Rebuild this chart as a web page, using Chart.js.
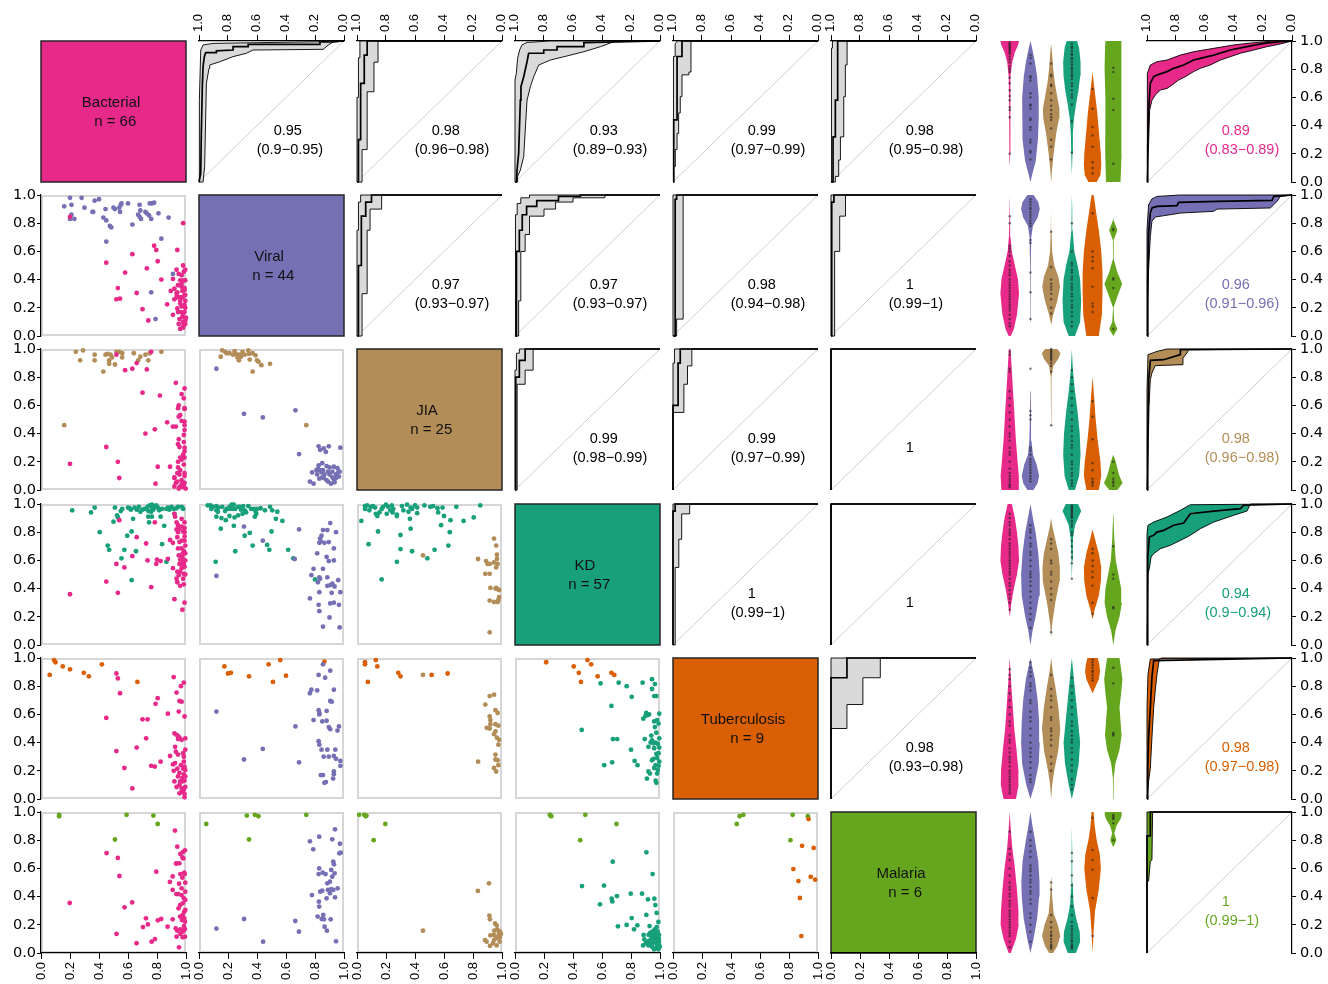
<!DOCTYPE html>
<html><head><meta charset="utf-8">
<script src="https://cdn.jsdelivr.net/npm/chart.js@4.4.0/dist/chart.umd.min.js"></script>
<style>
html,body{margin:0;padding:0;background:#fff;}
#root{position:relative;width:1328px;height:984px;overflow:hidden;background:#fff;}
canvas{position:absolute;}
</style>
</head><body><div id="root"></div>
<script>
// ---------------- DATA ----------------
const CLASSES = ['Bacterial','Viral','JIA','KD','Tuberculosis','Malaria'];
const COUNTS = [66,44,25,57,9,6];
const COLORS = ['#E7298A','#7570B3','#B38D57','#17A07A','#D95F02','#66A61E'];
const TICK_VALUES = [0,0.2,0.4,0.6,0.8,1];
const TICK_LABELS = ['0.0','0.2','0.4','0.6','0.8','1.0'];

// pairwise AUC labels (upper triangle)
const UPPER_PAIRS = [[0,1],[0,2],[0,3],[0,4],[0,5],[1,2],[1,3],[1,4],[1,5],[2,3],[2,4],[2,5],[3,4],[3,5],[4,5]];
const UPPER_AUC = ['0.95','0.98','0.93','0.99','0.98','0.97','0.97','0.98','1','0.99','0.99','1','1','1','0.98'];
const UPPER_CI = ['(0.9\u22120.95)','(0.96\u22120.98)','(0.89\u22120.93)','(0.97\u22120.99)','(0.95\u22120.98)','(0.93\u22120.97)','(0.93\u22120.97)','(0.94\u22120.98)','(0.99\u22121)','(0.98\u22120.99)','(0.97\u22120.99)','','(0.99\u22121)','','(0.93\u22120.98)'];
// one-vs-rest AUC labels
const OVR_AUC = ['0.89','0.96','0.98','0.94','0.98','1'];
const OVR_CI = ['(0.83\u22120.89)','(0.91\u22120.96)','(0.96\u22120.98)','(0.9\u22120.94)','(0.97\u22120.98)','(0.99\u22121)'];

const DIAG = [[1,0],[0,1]];
const ONE = [[1,0],[1,1],[0,1]];

// ROC curves [specificity, sensitivity]: M = estimate, L/H = CI bounds
const R01_M = [[1,0],[0.988,0.06],[0.984,0.35],[0.977,0.68],[0.972,0.82],[0.963,0.89],[0.954,0.917],[0.88,0.917],[0.88,0.93],[0.765,0.936],[0.765,0.96],[0.661,0.96],[0.661,0.976],[0.166,0.976],[0.166,0.993],[0.085,0.993],[0,1]];
const R01_H = [[1,0],[1,0.06],[0.995,0.58],[0.988,0.936],[0.972,0.972],[0.903,0.983],[0.166,0.995],[0.1,1],[0,1]];
const R01_L = [[1,0],[0.972,0],[0.961,0.11],[0.949,0.70],[0.931,0.806],[0.926,0.83],[0.857,0.853],[0.765,0.889],[0.673,0.913],[0.627,0.936],[0.143,0.941],[0.108,0.972],[0.074,0.993],[0,1]];
const R02_M = [[1,0],[0.99,0],[0.99,0.3],[0.975,0.3],[0.975,0.7],[0.95,0.7],[0.95,0.9],[0.93,0.9],[0.93,1],[0,1]];
const R02_H = [[1,0],[1,0.6],[0.99,0.6],[0.99,0.88],[0.98,0.88],[0.98,1],[0,1]];
const R02_L = [[1,0],[0.965,0],[0.965,0.23],[0.93,0.23],[0.93,0.64],[0.883,0.64],[0.883,0.85],[0.855,0.85],[0.855,1],[0,1]];
const R03_M = [[1,0],[0.99,0],[0.986,0.085],[0.975,0.2],[0.963,0.58],[0.959,0.676],[0.94,0.747],[0.917,0.853],[0.906,0.913],[0.802,0.913],[0.802,0.936],[0.71,0.936],[0.71,0.96],[0.525,0.96],[0.525,0.988],[0,1]];
const R03_H = [[1,0],[1,0.723],[0.991,0.77],[0.982,0.877],[0.968,0.936],[0.952,0.972],[0.917,0.99],[0.756,1],[0,1]];
const R03_L = [[1,0],[0.982,0],[0.982,0.04],[0.963,0.085],[0.94,0.18],[0.917,0.58],[0.894,0.676],[0.871,0.747],[0.836,0.83],[0.756,0.865],[0.641,0.894],[0.525,0.924],[0.41,0.96],[0.318,0.995],[0,1]];
const R04_M = [[1,0],[0.995,0],[0.995,0.44],[0.972,0.44],[0.972,0.89],[0.938,0.89],[0.938,1],[0,1]];
const R04_H = [[1,0],[1,0.44],[0.995,0.44],[0.995,0.89],[0.985,0.89],[0.985,0.98],[0.97,1],[0,1]];
const R04_L = [[1,0],[0.995,0],[0.995,0.11],[0.984,0.11],[0.984,0.23],[0.972,0.23],[0.972,0.345],[0.961,0.345],[0.961,0.49],[0.95,0.49],[0.95,0.605],[0.938,0.605],[0.938,0.76],[0.89,0.76],[0.89,0.78],[0.876,0.78],[0.876,1],[0,1]];
const R05_M = [[1,0],[0.986,0],[0.986,0.32],[0.97,0.32],[0.97,0.58],[0.954,0.58],[0.954,1],[0,1]];
const R05_H = [[1,0],[1,0.6],[0.995,0.6],[0.995,0.95],[0.99,0.95],[0.99,1],[0,1]];
const R05_L = [[1,0],[0.97,0],[0.97,0.04],[0.947,0.04],[0.947,0.156],[0.935,0.156],[0.935,0.32],[0.912,0.32],[0.912,0.605],[0.901,0.605],[0.901,0.83],[0.889,0.83],[0.889,1],[0,1]];
const R12_M = [[1,0],[0.99,0],[0.99,0.5],[0.97,0.5],[0.97,0.85],[0.94,0.85],[0.94,0.95],[0.9,0.95],[0.9,1],[0,1]];
const R12_H = [[1,0],[1,0.75],[0.99,0.75],[0.99,0.95],[0.975,0.95],[0.975,1],[0,1]];
const R12_L = [[1,0],[0.965,0],[0.965,0.3],[0.93,0.3],[0.93,0.75],[0.91,0.75],[0.91,0.9],[0.83,0.9],[0.83,1],[0,1]];
const R13_M = [[1,0],[0.99,0],[0.99,0.6],[0.97,0.6],[0.97,0.75],[0.95,0.75],[0.95,0.86],[0.92,0.86],[0.92,0.92],[0.85,0.92],[0.85,0.96],[0.7,0.96],[0.7,0.99],[0.55,0.99],[0.55,1],[0,1]];
const R13_H = [[1,0],[1,0.7],[0.995,0.7],[0.995,0.86],[0.985,0.86],[0.985,0.94],[0.96,0.94],[0.96,0.98],[0.9,0.98],[0.9,1],[0,1]];
const R13_L = [[1,0],[0.975,0],[0.975,0.25],[0.96,0.25],[0.96,0.6],[0.93,0.6],[0.93,0.72],[0.9,0.72],[0.9,0.85],[0.8,0.85],[0.8,0.9],[0.72,0.9],[0.72,0.95],[0.6,0.95],[0.6,0.98],[0.38,0.98],[0.38,1],[0,1]];
const R14_M = [[1,0],[0.985,0],[0.985,0.97],[0.975,0.97],[0.975,1],[0,1]];
const R14_H = ONE;
const R14_L = [[1,0],[0.975,0],[0.975,0.12],[0.93,0.12],[0.93,1],[0,1]];
const R15_M = [[1,0],[0.995,0],[0.995,0.95],[0.98,0.95],[0.98,1],[0,1]];
const R15_H = ONE;
const R15_L = [[1,0],[0.975,0],[0.975,0.6],[0.94,0.6],[0.94,0.85],[0.9,0.85],[0.9,1],[0,1]];
const R23_M = [[1,0],[0.995,0],[0.995,0.8],[0.97,0.8],[0.97,0.92],[0.93,0.92],[0.93,1],[0,1]];
const R23_H = [[1,0],[1,0.85],[0.99,0.85],[0.99,0.97],[0.97,0.97],[0.97,1],[0,1]];
const R23_L = [[1,0],[0.985,0],[0.985,0.75],[0.93,0.75],[0.93,0.85],[0.875,0.85],[0.875,1],[0,1]];
const R24_M = [[1,0],[1,0.6],[0.965,0.6],[0.965,0.9],[0.95,0.9],[0.95,1],[0,1]];
const R24_H = [[1,0],[1,0.9],[0.99,0.9],[0.99,1],[0,1]];
const R24_L = [[1,0],[1,0.55],[0.925,0.55],[0.925,0.75],[0.9,0.75],[0.9,0.88],[0.87,0.88],[0.87,1],[0,1]];
const R25_M = ONE, R25_H = ONE, R25_L = ONE;
const R34_M = [[1,0],[1,0.95],[0.985,0.95],[0.985,1],[0,1]];
const R34_H = ONE;
const R34_L = [[1,0],[0.985,0],[0.985,0.55],[0.96,0.55],[0.96,0.75],[0.94,0.75],[0.94,0.93],[0.885,0.93],[0.885,1],[0,1]];
const R35_M = ONE, R35_H = ONE, R35_L = ONE;
const R45_M = [[1,0],[1,0.86],[0.89,0.86],[0.89,1],[0,1]];
const R45_H = ONE;
const R45_L = [[1,0],[1,0.5],[0.89,0.5],[0.89,0.67],[0.78,0.67],[0.78,0.86],[0.66,0.86],[0.66,1],[0,1]];

// one-vs-rest ROC
const O0_M = [[1,0],[0.995,0.25],[0.989,0.51],[0.977,0.70],[0.954,0.747],[0.931,0.759],[0.862,0.783],[0.816,0.806],[0.747,0.83],[0.678,0.865],[0.632,0.877],[0.54,0.9],[0.425,0.936],[0.31,0.96],[0.195,0.983],[0.08,0.995],[0,1]];
const O0_H = [[1,0],[1,0.58],[0.995,0.77],[0.977,0.83],[0.931,0.853],[0.862,0.865],[0.77,0.9],[0.678,0.924],[0.54,0.948],[0.402,0.972],[0.264,0.988],[0.126,1],[0,1]];
const O0_L = [[1,0],[0.989,0.274],[0.982,0.51],[0.966,0.58],[0.943,0.617],[0.908,0.652],[0.862,0.664],[0.828,0.688],[0.782,0.723],[0.736,0.747],[0.678,0.783],[0.632,0.806],[0.563,0.83],[0.494,0.865],[0.425,0.889],[0.356,0.913],[0.264,0.936],[0.172,0.96],[0.08,0.979],[0,1]];
const O1_M = [[1,0],[0.995,0.4],[0.989,0.73],[0.977,0.872],[0.966,0.908],[0.931,0.919],[0.793,0.924],[0.782,0.948],[0.517,0.955],[0.138,0.962],[0.126,0.99],[0,1]];
const O1_H = [[1,0],[1,0.754],[0.989,0.931],[0.966,0.972],[0.931,0.99],[0.77,1],[0,1]];
const O1_L = [[1,0],[0.995,0.21],[0.989,0.47],[0.977,0.706],[0.966,0.813],[0.943,0.844],[0.885,0.853],[0.77,0.872],[0.54,0.884],[0.517,0.9],[0.15,0.908],[0.126,0.931],[0.103,0.955],[0.08,0.99],[0,1]];
const O2_M = [[1,0],[0.995,0.357],[0.989,0.783],[0.982,0.853],[0.977,0.92],[0.885,0.924],[0.77,0.96],[0.77,0.995],[0,1]];
const O2_H = [[1,0],[1,0.712],[0.993,0.96],[0.931,0.983],[0.862,1],[0,1]];
const O2_L = [[1,0],[0.993,0.239],[0.986,0.593],[0.977,0.783],[0.966,0.83],[0.943,0.882],[0.752,0.889],[0.752,0.936],[0.724,0.972],[0.713,0.995],[0,1]];
const O3_M = [[1,0],[0.995,0.624],[0.984,0.766],[0.954,0.778],[0.931,0.801],[0.885,0.813],[0.816,0.849],[0.747,0.865],[0.701,0.931],[0.54,0.95],[0.356,0.967],[0.333,0.991],[0,1]];
const O3_H = [[1,0],[1,0.79],[0.993,0.849],[0.954,0.872],[0.862,0.908],[0.77,0.955],[0.701,0.995],[0,1]];
const O3_L = [[1,0],[0.993,0.506],[0.982,0.553],[0.972,0.624],[0.954,0.648],[0.908,0.683],[0.839,0.707],[0.77,0.742],[0.701,0.778],[0.632,0.825],[0.54,0.872],[0.402,0.92],[0.31,0.95],[0.287,1],[0,1]];
const O4_M = [[1,0],[0.995,0.22],[0.989,0.433],[0.977,0.648],[0.966,0.862],[0.954,0.981],[0,1]];
const O4_H = [[1,0],[1,0.648],[0.993,0.886],[0.977,0.993],[0,1]];
const O4_L = [[1,0],[0.989,0.124],[0.977,0.219],[0.966,0.433],[0.954,0.648],[0.943,0.767],[0.931,0.886],[0.915,0.993],[0.9,1],[0,1]];
const O5_M = [[1,0],[1,0.83],[0.977,0.83],[0.977,1],[0,1]];
const O5_H = ONE;
const O5_L = [[1,0],[1,0.5],[0.989,0.51],[0.977,0.65],[0.966,0.66],[0.961,1],[0,1]];

// violin profiles per row: for each class [y, half-width]
const VIOLIN_R0 = [
 [[0.12,0],[0.2,0.02],[0.4,0.02],[0.6,0.03],[0.75,0.05],[0.85,0.12],[0.92,0.25],[0.97,0.4],[1.0,0.45]],
 [[0.0,0],[0.05,0.08],[0.15,0.26],[0.3,0.36],[0.45,0.4],[0.6,0.4],[0.75,0.32],[0.85,0.22],[0.95,0.08],[1.0,0]],
 [[0.0,0],[0.1,0.05],[0.2,0.12],[0.35,0.25],[0.45,0.38],[0.52,0.4],[0.6,0.3],[0.7,0.18],[0.8,0.1],[0.9,0.05],[0.98,0]],
 [[0.05,0],[0.2,0.03],[0.35,0.05],[0.45,0.1],[0.55,0.2],[0.65,0.32],[0.75,0.4],[0.85,0.42],[0.95,0.35],[1.0,0.25]],
 [[0.0,0.2],[0.05,0.38],[0.12,0.42],[0.2,0.4],[0.3,0.34],[0.4,0.28],[0.5,0.22],[0.6,0.14],[0.7,0.06],[0.78,0]],
 [[0.0,0.35],[0.2,0.4],[0.4,0.38],[0.6,0.38],[0.8,0.42],[0.95,0.4],[1.0,0.38]]
];
const VIOLIN_R1 = [
 [[0.0,0.05],[0.05,0.2],[0.15,0.35],[0.3,0.45],[0.4,0.4],[0.5,0.25],[0.6,0.1],[0.7,0.04],[0.85,0.02],[1.0,0]],
 [[0.1,0],[0.3,0.01],[0.5,0.02],[0.7,0.04],[0.78,0.12],[0.84,0.35],[0.9,0.45],[0.95,0.38],[1.0,0.15]],
 [[0.08,0],[0.15,0.1],[0.25,0.3],[0.35,0.43],[0.42,0.35],[0.5,0.15],[0.6,0.05],[0.75,0.02],[0.9,0]],
 [[0.0,0.15],[0.1,0.4],[0.25,0.45],[0.4,0.4],[0.5,0.28],[0.6,0.12],[0.75,0.04],[0.9,0.02],[1.0,0]],
 [[0.0,0.3],[0.15,0.45],[0.3,0.48],[0.45,0.48],[0.6,0.42],[0.75,0.3],[0.85,0.2],[0.95,0.1],[1.0,0.05]],
 [[0.0,0],[0.05,0.2],[0.1,0.05],[0.2,0.01],[0.28,0.2],[0.37,0.43],[0.45,0.2],[0.55,0.01],[0.68,0.02],[0.75,0.2],[0.82,0.02],[0.85,0]]
];
const VIOLIN_R2 = [
 [[0.0,0.4],[0.1,0.44],[0.2,0.38],[0.35,0.3],[0.5,0.24],[0.65,0.18],[0.8,0.12],[0.9,0.08],[1.0,0.04]],
 [[0.0,0.15],[0.05,0.35],[0.1,0.42],[0.18,0.3],[0.25,0.12],[0.35,0.05],[0.5,0.03],[0.7,0.02],[0.9,0]],
 [[0.45,0],[0.6,0.01],[0.8,0.02],[0.88,0.1],[0.93,0.35],[0.97,0.45],[1.0,0.3]],
 [[0.0,0.15],[0.1,0.35],[0.25,0.42],[0.4,0.38],[0.55,0.28],[0.7,0.15],[0.85,0.05],[1.0,0]],
 [[0.0,0.3],[0.1,0.42],[0.2,0.38],[0.35,0.25],[0.5,0.15],[0.65,0.08],[0.8,0]],
 [[0.0,0.2],[0.05,0.45],[0.1,0.3],[0.15,0.2],[0.2,0.12],[0.25,0]]
];
const VIOLIN_R3 = [
 [[0.2,0],[0.3,0.08],[0.4,0.2],[0.5,0.35],[0.6,0.45],[0.7,0.42],[0.8,0.35],[0.9,0.25],[1.0,0.1]],
 [[0.0,0],[0.1,0.1],[0.2,0.25],[0.35,0.42],[0.5,0.45],[0.65,0.38],[0.8,0.25],[0.9,0.12],[1.0,0]],
 [[0.05,0],[0.15,0.05],[0.3,0.2],[0.45,0.4],[0.55,0.42],[0.65,0.35],[0.75,0.2],[0.85,0.05],[0.9,0]],
 [[0.45,0],[0.6,0.02],[0.75,0.05],[0.85,0.15],[0.9,0.3],[0.95,0.45],[1.0,0.3]],
 [[0.18,0],[0.25,0.1],[0.35,0.3],[0.45,0.4],[0.55,0.42],[0.65,0.3],[0.75,0.12],[0.82,0]],
 [[0.0,0],[0.1,0.1],[0.2,0.3],[0.3,0.42],[0.4,0.38],[0.5,0.25],[0.6,0.12],[0.75,0.05],[0.95,0]]
];
const VIOLIN_R4 = [
 [[0.0,0.3],[0.1,0.43],[0.2,0.42],[0.35,0.33],[0.5,0.22],[0.65,0.15],[0.8,0.08],[1.0,0]],
 [[0.0,0],[0.1,0.2],[0.25,0.4],[0.4,0.45],[0.55,0.42],[0.7,0.35],[0.85,0.22],[1.0,0]],
 [[0.0,0],[0.1,0.05],[0.2,0.15],[0.35,0.35],[0.5,0.44],[0.65,0.35],[0.8,0.2],[0.9,0.08],[1.0,0]],
 [[0.0,0],[0.1,0.15],[0.25,0.33],[0.4,0.4],[0.55,0.3],[0.7,0.2],[0.85,0.1],[1.0,0]],
 [[0.75,0],[0.8,0.15],[0.85,0.3],[0.9,0.36],[0.95,0.33],[1.0,0.25]],
 [[0.0,0],[0.15,0.02],[0.25,0.1],[0.35,0.3],[0.45,0.4],[0.55,0.35],[0.65,0.3],[0.75,0.38],[0.85,0.44],[0.95,0.35],[1.0,0.3]]
];
const VIOLIN_R5 = [
 [[0.0,0.05],[0.1,0.3],[0.2,0.44],[0.3,0.42],[0.45,0.35],[0.6,0.25],[0.75,0.12],[0.9,0.04],[1.0,0]],
 [[0.0,0],[0.1,0.15],[0.25,0.33],[0.4,0.42],[0.5,0.44],[0.65,0.38],[0.8,0.22],[0.9,0.1],[1.0,0]],
 [[0.0,0.1],[0.05,0.3],[0.12,0.44],[0.2,0.32],[0.28,0.12],[0.4,0.05],[0.55,0]],
 [[0.0,0.2],[0.08,0.4],[0.15,0.38],[0.25,0.2],[0.35,0.08],[0.5,0.04],[0.7,0.02],[0.9,0]],
 [[0.0,0],[0.15,0.05],[0.3,0.12],[0.45,0.3],[0.6,0.4],[0.7,0.35],[0.8,0.2],[0.9,0.1],[1.0,0.05]],
 [[0.75,0],[0.8,0.15],[0.85,0.05],[0.9,0.15],[0.95,0.35],[0.98,0.42],[1.0,0.4]]
];

// sample scores shown as dots inside the violins (per row, per class)
const VDOT_R0 = [
 [0.99,0.98,0.97,0.96,0.95,0.94,0.93,0.92,0.91,0.89,0.87,0.85,0.82,0.80,0.78,0.74,0.70,0.65,0.61,0.58,0.53,0.51,0.46,0.20],
 [0.90,0.88,0.84,0.75,0.74,0.72,0.63,0.60,0.55,0.54,0.52,0.45,0.44,0.39,0.37,0.30,0.28,0.22,0.21,0.16],
 [0.84,0.76,0.75,0.69,0.68,0.63,0.58,0.54,0.51,0.48,0.46,0.44,0.38,0.30,0.25,0.16],
 [0.98,0.96,0.95,0.93,0.91,0.90,0.88,0.87,0.85,0.83,0.81,0.80,0.78,0.76,0.75,0.73,0.70,0.68,0.65,0.62,0.60,0.55,0.43,0.21],
 [0.66,0.52,0.39,0.33,0.25,0.14,0.10,0.06],
 [0.81,0.78,0.59,0.51,0.13]
];
const VDOT_R1 = [
 [0.85,0.80,0.64,0.62,0.60,0.57,0.53,0.50,0.47,0.45,0.43,0.40,0.38,0.36,0.34,0.32,0.30,0.28,0.26,0.24,0.22,0.20,0.18,0.15,0.12,0.09,0.07],
 [0.97,0.95,0.93,0.91,0.90,0.88,0.86,0.84,0.82,0.80,0.78,0.68,0.66,0.45,0.31,0.12],
 [0.74,0.49,0.40,0.37,0.35,0.33,0.30,0.26,0.20,0.16],
 [0.80,0.60,0.52,0.50,0.47,0.45,0.42,0.40,0.37,0.35,0.33,0.30,0.28,0.25,0.22,0.20,0.17,0.14,0.10,0.07],
 [0.87,0.60,0.56,0.53,0.48,0.35,0.23,0.21,0.17],
 [0.76,0.75,0.41,0.40,0.34,0.05]
];
const VDOT_R2 = [
 [0.98,0.96,0.86,0.84,0.70,0.65,0.60,0.55,0.50,0.45,0.40,0.38,0.35,0.30,0.27,0.25,0.20,0.15,0.12,0.10,0.08,0.06,0.04,0.03,0.02],
 [0.86,0.56,0.53,0.50,0.30,0.28,0.25,0.22,0.20,0.18,0.16,0.14,0.12,0.10,0.08,0.06],
 [1.00,0.99,0.98,0.97,0.96,0.95,0.94,0.93,0.92,0.90,0.88,0.84,0.46],
 [0.85,0.80,0.75,0.70,0.65,0.60,0.55,0.50,0.45,0.42,0.38,0.35,0.32,0.30,0.25,0.20,0.18,0.15,0.12,0.10,0.07,0.05,0.03],
 [0.63,0.52,0.36,0.19,0.14,0.08,0.06,0.05,0.03],
 [0.20,0.12,0.08,0.06,0.05,0.03]
];
const VDOT_R3 = [
 [0.93,0.90,0.87,0.85,0.82,0.80,0.78,0.75,0.72,0.70,0.68,0.66,0.64,0.62,0.60,0.58,0.56,0.54,0.52,0.50,0.47,0.44,0.42,0.39,0.36,0.33,0.30,0.25],
 [0.85,0.82,0.80,0.76,0.72,0.70,0.66,0.64,0.60,0.56,0.52,0.50,0.48,0.45,0.42,0.38,0.34,0.30,0.26,0.22,0.18,0.12],
 [0.75,0.72,0.68,0.60,0.58,0.52,0.50,0.45,0.40,0.36,0.32,0.09],
 [0.99,0.98,0.97,0.96,0.95,0.94,0.93,0.92,0.91,0.90,0.88,0.86,0.84,0.80,0.78,0.74,0.70,0.66,0.62,0.58,0.47],
 [0.68,0.65,0.60,0.56,0.52,0.48,0.42,0.30,0.22],
 [0.70,0.50,0.47,0.27,0.26]
];
const VDOT_R4 = [
 [0.92,0.88,0.85,0.80,0.75,0.70,0.65,0.60,0.55,0.52,0.45,0.42,0.40,0.36,0.33,0.30,0.28,0.26,0.23,0.20,0.18,0.16,0.14,0.12,0.10,0.08,0.06,0.04],
 [0.97,0.93,0.90,0.87,0.82,0.80,0.77,0.70,0.68,0.62,0.58,0.55,0.50,0.45,0.40,0.36,0.33,0.30,0.26,0.22,0.17,0.14,0.12],
 [0.88,0.78,0.73,0.70,0.65,0.58,0.56,0.50,0.48,0.45,0.42,0.38,0.30,0.25,0.20],
 [0.86,0.80,0.75,0.70,0.65,0.60,0.55,0.52,0.48,0.45,0.42,0.40,0.36,0.33,0.28,0.24,0.20,0.14,0.10,0.07],
 [0.99,0.97,0.95,0.93,0.91,0.90,0.88,0.86,0.84],
 [0.93,0.82,0.47,0.46,0.45]
];
const VDOT_R5 = [
 [0.86,0.74,0.70,0.66,0.60,0.55,0.50,0.47,0.45,0.42,0.40,0.37,0.35,0.33,0.30,0.28,0.26,0.24,0.22,0.20,0.18,0.16,0.14,0.12,0.08,0.04],
 [0.86,0.80,0.76,0.72,0.68,0.62,0.60,0.58,0.55,0.52,0.50,0.47,0.44,0.42,0.38,0.35,0.28,0.25,0.20,0.15,0.08],
 [0.50,0.45,0.27,0.22,0.18,0.15,0.13,0.12,0.10,0.08,0.06,0.05,0.04,0.03],
 [0.71,0.65,0.55,0.48,0.40,0.33,0.27,0.22,0.19,0.17,0.15,0.13,0.11,0.09,0.08,0.06,0.05,0.04,0.03],
 [0.96,0.73,0.66,0.59,0.39,0.12],
 [0.98,0.97,0.96,0.95,0.92,0.80]
];

// scatter panels (row class A, column class B) as [x, y]
const SC_1_0_A = [[0.16,0.92],[0.20,0.98],[0.21,0.93],[0.21,0.86],[0.23,0.83],[0.20,0.83],[0.28,0.98],[0.30,0.91],[0.355,0.88],[0.36,0.88],[0.37,0.96],[0.40,0.97],[0.43,0.84],[0.445,0.90],[0.45,0.82],[0.475,0.78],[0.485,0.77],[0.45,0.67],[0.50,0.91],[0.51,0.90],[0.54,0.91],[0.545,0.88],[0.55,0.93],[0.555,0.94],[0.60,0.94],[0.63,0.79],[0.67,0.86],[0.68,0.93],[0.685,0.89],[0.68,0.845],[0.69,0.83],[0.72,0.88],[0.73,0.87],[0.745,0.855],[0.75,0.94],[0.765,0.94],[0.78,0.945],[0.76,0.83],[0.81,0.87],[0.88,0.84],[0.83,0.69],[0.91,0.44],[0.76,0.31],[0.79,0.12]];
const SC_1_0_B = [[0.20,0.845],[0.98,0.80],[0.45,0.52],[0.58,0.45],[0.63,0.58],[0.53,0.34],[0.52,0.26],[0.545,0.265],[0.66,0.305],[0.70,0.19],[0.74,0.11],[0.73,0.48],[0.78,0.64],[0.795,0.61],[0.805,0.53],[0.83,0.40],[0.94,0.61],[0.935,0.47],[0.91,0.405],[0.87,0.225],[0.91,0.15],[0.895,0.32],[0.92,0.335],[0.935,0.30],[0.94,0.195],[0.95,0.085],[0.96,0.395],[0.97,0.35],[0.98,0.50],[0.995,0.47],[0.985,0.395],[0.99,0.325],[0.975,0.275],[0.995,0.25],[0.96,0.25],[0.97,0.21],[0.99,0.17],[0.975,0.135],[0.995,0.11],[0.98,0.06],[0.965,0.17],[0.945,0.17],[0.955,0.12],[0.995,0.20],[0.975,0.32],[0.945,0.36],[0.955,0.275],[0.995,0.29],[0.995,0.395],[0.985,0.455],[0.995,0.085],[0.98,0.10],[0.935,0.275],[0.96,0.23],[0.99,0.22],[0.97,0.43],[0.94,0.31],[0.99,0.34],[0.98,0.16],[0.96,0.05],[1.0,0.13],[0.92,0.26],[0.97,0.37],[0.99,0.29],[0.95,0.44],[0.98,0.07]];
const SC_2_0_A = [[0.24,0.98],[0.29,0.99],[0.27,0.92],[0.37,0.96],[0.37,0.92],[0.43,0.84],[0.46,0.965],[0.48,0.96],[0.49,0.94],[0.47,0.92],[0.47,0.895],[0.51,0.89],[0.52,0.98],[0.54,0.98],[0.56,0.97],[0.56,0.94],[0.64,0.97],[0.67,0.92],[0.685,0.945],[0.72,0.96],[0.74,0.92],[0.75,0.97],[0.83,0.98],[0.16,0.46],[0.445,0.96]];
const SC_2_0_B = [[0.52,0.96],[0.58,0.85],[0.63,0.86],[0.66,0.90],[0.73,0.855],[0.76,0.98],[0.93,0.76],[0.99,0.72],[0.70,0.69],[0.82,0.67],[0.985,0.65],[0.95,0.60],[0.945,0.58],[0.99,0.575],[0.96,0.53],[0.95,0.52],[0.87,0.48],[0.91,0.45],[0.93,0.45],[0.97,0.49],[0.99,0.485],[0.99,0.425],[0.985,0.39],[0.985,0.34],[0.945,0.325],[0.955,0.305],[0.99,0.275],[0.99,0.23],[0.945,0.20],[0.97,0.215],[0.89,0.165],[0.945,0.16],[0.985,0.18],[0.955,0.11],[0.99,0.12],[0.92,0.085],[0.94,0.06],[0.97,0.07],[0.99,0.05],[0.92,0.025],[0.955,0.02],[0.985,0.025],[0.998,0.01],[0.72,0.40],[0.785,0.43],[0.45,0.305],[0.53,0.20],[0.54,0.085],[0.20,0.185],[0.79,0.045],[0.805,0.165],[0.97,0.04],[0.93,0.05],[0.99,0.10],[0.96,0.14],[0.98,0.25],[0.95,0.36],[0.99,0.46],[0.97,0.68],[0.92,0.09],[0.98,0.02],[0.95,0.01],[0.99,0.58],[0.96,0.23],[0.94,0.12],[0.99,0.30]];
const SC_2_1_A = [[0.16,0.99],[0.18,0.98],[0.19,0.97],[0.15,0.945],[0.21,0.97],[0.255,0.965],[0.265,0.94],[0.275,0.92],[0.29,0.945],[0.30,0.98],[0.34,0.99],[0.345,0.965],[0.35,0.925],[0.39,0.955],[0.40,0.92],[0.41,0.91],[0.43,0.885],[0.37,0.84],[0.49,0.895],[0.74,0.46],[0.235,0.96],[0.315,0.96],[0.245,0.985],[0.37,0.97],[0.28,0.96]];
const SC_2_1_B = [[0.12,0.86],[0.31,0.54],[0.44,0.515],[0.665,0.565],[0.69,0.255],[0.825,0.31],[0.835,0.285],[0.86,0.295],[0.875,0.27],[0.895,0.31],[0.975,0.30],[0.78,0.125],[0.765,0.06],[0.79,0.045],[0.825,0.175],[0.835,0.14],[0.85,0.19],[0.855,0.14],[0.815,0.11],[0.83,0.08],[0.86,0.085],[0.89,0.13],[0.90,0.16],[0.93,0.165],[0.945,0.11],[0.96,0.125],[0.97,0.13],[0.92,0.09],[0.93,0.075],[0.91,0.045],[0.88,0.07],[0.90,0.11],[0.845,0.125],[0.945,0.085],[0.92,0.13],[0.865,0.11],[0.88,0.17],[0.81,0.14],[0.935,0.055],[0.89,0.06],[0.965,0.095],[0.85,0.09],[0.82,0.15],[0.955,0.155]];
const SC_3_0_A = [[0.215,0.955],[0.345,0.94],[0.37,0.975],[0.405,0.80],[0.46,0.705],[0.47,0.675],[0.51,0.975],[0.50,0.875],[0.525,0.92],[0.53,0.905],[0.55,0.95],[0.595,0.775],[0.575,0.675],[0.555,0.615],[0.625,0.805],[0.635,0.895],[0.625,0.46],[0.655,0.665],[0.60,0.975],[0.62,0.96],[0.645,0.975],[0.66,0.96],[0.685,0.945],[0.70,0.96],[0.74,0.95],[0.74,0.91],[0.75,0.99],[0.765,0.995],[0.775,0.96],[0.795,0.99],[0.805,0.975],[0.825,0.91],[0.835,0.965],[0.865,0.965],[0.875,0.975],[0.90,0.98],[0.915,0.965],[0.92,0.93],[0.945,0.98],[0.97,0.98],[0.85,0.845],[0.835,0.715],[0.865,0.59],[0.765,0.91],[0.735,0.98],[0.675,0.98],[0.785,0.98],[0.935,0.97],[0.885,0.96],[0.715,0.965],[0.61,0.97],[0.815,0.955],[0.765,0.975],[0.98,0.965],[0.56,0.965],[0.76,0.945],[0.745,0.87]];
const SC_3_0_B = [[0.20,0.36],[0.45,0.45],[0.53,0.37],[0.52,0.575],[0.575,0.55],[0.54,0.885],[0.63,0.63],[0.66,0.765],[0.725,0.72],[0.735,0.60],[0.76,0.41],[0.785,0.87],[0.795,0.575],[0.80,0.605],[0.825,0.595],[0.875,0.61],[0.89,0.745],[0.91,0.725],[0.91,0.545],[0.92,0.325],[0.94,0.445],[0.935,0.47],[0.95,0.495],[0.94,0.52],[0.955,0.575],[0.96,0.605],[0.95,0.635],[0.97,0.685],[0.985,0.665],[0.975,0.625],[0.985,0.575],[0.99,0.555],[0.985,0.505],[0.97,0.545],[0.945,0.685],[0.935,0.82],[0.935,0.87],[0.945,0.85],[0.97,0.84],[0.99,0.83],[0.98,0.805],[0.99,0.87],[0.955,0.825],[0.97,0.74],[0.99,0.77],[0.995,0.705],[0.975,0.645],[0.98,0.60],[0.995,0.60],[0.985,0.43],[0.99,0.30],[0.975,0.25],[0.925,0.91],[0.92,0.93],[0.955,0.73],[0.945,0.80],[0.995,0.65],[0.97,0.575],[0.96,0.52],[0.995,0.50],[0.98,0.47],[0.96,0.42],[0.99,0.80],[0.94,0.765],[0.97,0.895],[0.99,0.74]];
const SC_3_1_A = [[0.06,0.99],[0.08,0.99],[0.095,0.98],[0.12,0.985],[0.135,0.975],[0.16,0.98],[0.19,0.965],[0.21,0.98],[0.225,0.995],[0.23,0.965],[0.25,0.965],[0.27,0.98],[0.305,0.985],[0.315,0.955],[0.325,0.94],[0.30,0.93],[0.27,0.92],[0.245,0.905],[0.21,0.915],[0.185,0.885],[0.155,0.90],[0.12,0.91],[0.15,0.825],[0.115,0.59],[0.24,0.845],[0.25,0.665],[0.315,0.775],[0.35,0.795],[0.37,0.705],[0.38,0.965],[0.39,0.95],[0.40,0.965],[0.425,0.97],[0.385,0.91],[0.47,0.71],[0.485,0.675],[0.50,0.805],[0.49,0.98],[0.505,0.955],[0.54,0.945],[0.53,0.895],[0.575,0.88],[0.615,0.675],[0.65,0.615],[0.80,0.465],[0.21,0.965],[0.18,0.95],[0.28,0.98],[0.34,0.985],[0.085,0.965],[0.13,0.945],[0.29,0.96],[0.395,0.93],[0.24,0.995],[0.36,0.965],[0.455,0.955],[0.12,0.955]];
const SC_3_1_B = [[0.12,0.49],[0.31,0.84],[0.44,0.74],[0.66,0.61],[0.69,0.82],[0.765,0.33],[0.775,0.495],[0.79,0.54],[0.815,0.65],[0.83,0.725],[0.835,0.755],[0.845,0.775],[0.855,0.815],[0.885,0.815],[0.905,0.865],[0.945,0.80],[0.84,0.735],[0.865,0.725],[0.93,0.685],[0.88,0.625],[0.895,0.595],[0.93,0.60],[0.83,0.48],[0.82,0.445],[0.885,0.48],[0.905,0.425],[0.92,0.435],[0.935,0.415],[0.96,0.46],[0.83,0.375],[0.915,0.37],[0.975,0.375],[0.825,0.285],[0.905,0.295],[0.93,0.30],[0.965,0.285],[0.83,0.24],[0.90,0.195],[0.855,0.13],[0.97,0.125],[0.835,0.47],[0.895,0.73],[0.855,0.54],[0.885,0.42]];
const SC_3_2_A = [[0.03,0.88],[0.055,0.985],[0.07,0.99],[0.085,0.955],[0.11,0.985],[0.125,0.975],[0.14,0.915],[0.155,0.94],[0.145,0.805],[0.08,0.715],[0.17,0.465],[0.20,0.995],[0.215,0.98],[0.24,0.99],[0.245,0.94],[0.275,0.925],[0.275,0.915],[0.31,0.985],[0.30,0.78],[0.30,0.68],[0.275,0.59],[0.345,0.995],[0.37,0.975],[0.38,0.965],[0.355,0.945],[0.365,0.895],[0.37,0.825],[0.38,0.665],[0.415,0.975],[0.415,0.935],[0.465,0.99],[0.525,0.985],[0.555,0.97],[0.56,0.94],[0.59,0.975],[0.60,0.915],[0.58,0.85],[0.645,0.885],[0.64,0.80],[0.63,0.705],[0.535,0.675],[0.485,0.615],[0.685,0.98],[0.735,0.88],[0.805,0.905],[0.85,0.99],[0.23,0.955],[0.17,0.965],[0.095,0.98],[0.055,0.965],[0.32,0.955],[0.40,0.99],[0.505,0.98],[0.205,0.93],[0.25,0.965],[0.13,0.93],[0.18,0.98]];
const SC_3_2_B = [[0.455,0.635],[0.835,0.61],[0.89,0.595],[0.90,0.575],[0.915,0.575],[0.945,0.585],[0.97,0.575],[0.96,0.55],[0.965,0.61],[0.965,0.64],[0.96,0.705],[0.945,0.755],[0.885,0.505],[0.915,0.505],[0.92,0.405],[0.96,0.405],[0.97,0.395],[0.98,0.39],[0.98,0.34],[0.915,0.315],[0.945,0.305],[0.97,0.305],[0.975,0.32],[0.915,0.09],[0.955,0.40]];
const SC_4_0_A = [[0.06,0.88],[0.09,0.985],[0.10,0.97],[0.15,0.94],[0.20,0.92],[0.295,0.895],[0.33,0.87],[0.42,0.955],[0.665,0.83]];
const SC_4_0_B = [[0.52,0.89],[0.53,0.855],[0.545,0.75],[0.45,0.575],[0.70,0.565],[0.735,0.565],[0.725,0.43],[0.66,0.365],[0.52,0.34],[0.575,0.22],[0.63,0.075],[0.76,0.235],[0.785,0.23],[0.825,0.265],[0.79,0.675],[0.805,0.715],[0.875,0.605],[0.915,0.865],[0.935,0.755],[0.965,0.80],[0.985,0.825],[0.955,0.695],[0.97,0.69],[0.95,0.62],[0.99,0.585],[0.92,0.465],[0.935,0.455],[0.945,0.425],[0.955,0.435],[0.97,0.42],[0.995,0.43],[0.93,0.335],[0.945,0.315],[0.89,0.305],[0.91,0.245],[0.925,0.255],[0.94,0.215],[0.955,0.185],[0.915,0.20],[0.985,0.265],[0.99,0.23],[0.995,0.205],[0.985,0.175],[0.975,0.15],[0.99,0.13],[0.955,0.10],[0.935,0.085],[0.97,0.075],[0.985,0.065],[0.99,0.035],[0.97,0.05],[0.99,0.012],[0.995,0.085],[0.96,0.125],[0.945,0.445],[0.995,0.35],[0.98,0.325],[0.965,0.24],[0.98,0.215],[0.92,0.125],[0.955,0.04],[0.975,0.125],[0.995,0.16],[0.945,0.16],[0.985,0.30],[0.925,0.37]];
const SC_4_1_A = [[0.175,0.94],[0.20,0.89],[0.22,0.895],[0.345,0.87],[0.48,0.955],[0.51,0.83],[0.56,0.985],[0.60,0.875],[0.865,0.975]];
const SC_4_1_B = [[0.12,0.62],[0.31,0.28],[0.44,0.355],[0.665,0.515],[0.69,0.26],[0.765,0.75],[0.775,0.775],[0.815,0.77],[0.825,0.88],[0.855,0.955],[0.87,0.86],[0.905,0.91],[0.93,0.775],[0.905,0.695],[0.915,0.69],[0.825,0.63],[0.83,0.61],[0.88,0.625],[0.79,0.56],[0.85,0.55],[0.88,0.555],[0.895,0.51],[0.905,0.495],[0.955,0.485],[0.965,0.515],[0.825,0.41],[0.83,0.385],[0.885,0.35],[0.94,0.35],[0.86,0.30],[0.895,0.30],[0.93,0.305],[0.945,0.285],[0.975,0.27],[0.975,0.235],[0.84,0.17],[0.855,0.17],[0.93,0.195],[0.93,0.175],[0.925,0.145],[0.865,0.115],[0.875,0.12],[0.83,0.60],[0.845,0.35]];
const SC_4_2_A = [[0.055,0.97],[0.055,0.955],[0.13,0.985],[0.14,0.94],[0.075,0.83],[0.285,0.895],[0.30,0.87],[0.515,0.88],[0.625,0.89]];
const SC_4_2_B = [[0.455,0.88],[0.885,0.67],[0.915,0.73],[0.945,0.74],[0.955,0.63],[0.97,0.61],[0.915,0.585],[0.92,0.56],[0.92,0.53],[0.895,0.505],[0.915,0.50],[0.955,0.53],[0.975,0.52],[0.955,0.48],[0.945,0.46],[0.965,0.435],[0.98,0.42],[0.975,0.385],[0.955,0.315],[0.955,0.28],[0.97,0.275],[0.835,0.265],[0.975,0.24],[0.945,0.22],[0.96,0.195]];
const SC_4_3_A = [[0.215,0.97],[0.405,0.94],[0.50,0.985],[0.525,0.955],[0.44,0.895],[0.455,0.83],[0.57,0.87],[0.665,0.895],[0.685,0.88]];
const SC_4_3_B = [[0.59,0.82],[0.715,0.825],[0.77,0.80],[0.88,0.825],[0.945,0.85],[0.965,0.815],[0.945,0.78],[0.96,0.73],[0.975,0.73],[0.805,0.725],[0.665,0.66],[0.46,0.49],[0.675,0.425],[0.705,0.425],[0.80,0.35],[0.825,0.27],[0.845,0.24],[0.67,0.26],[0.615,0.24],[0.905,0.61],[0.885,0.57],[0.90,0.59],[0.915,0.595],[0.925,0.60],[0.96,0.55],[0.98,0.56],[0.99,0.535],[0.895,0.425],[0.94,0.45],[0.945,0.415],[0.955,0.395],[0.975,0.47],[0.985,0.39],[0.995,0.365],[0.92,0.37],[0.975,0.32],[0.955,0.285],[0.98,0.29],[0.97,0.24],[0.99,0.235],[0.96,0.22],[0.985,0.205],[0.92,0.195],[0.91,0.145],[0.97,0.13],[0.975,0.115],[0.97,0.40],[0.995,0.43],[0.96,0.36],[0.945,0.275],[0.995,0.265],[0.935,0.40],[0.99,0.325],[0.965,0.51],[0.995,0.605],[0.93,0.18],[0.98,0.18]];
const SC_5_0_A = [[0.125,0.98],[0.125,0.97],[0.59,0.98],[0.775,0.975],[0.805,0.915],[0.51,0.805]];
const SC_5_0_B = [[0.198,0.355],[0.452,0.709],[0.53,0.674],[0.541,0.546],[0.576,0.324],[0.629,0.359],[0.521,0.135],[0.659,0.069],[0.724,0.246],[0.737,0.203],[0.703,0.184],[0.763,0.08],[0.786,0.099],[0.795,0.577],[0.806,0.232],[0.829,0.241],[0.873,0.187],[0.889,0.504],[0.908,0.447],[0.908,0.239],[0.924,0.868],[0.931,0.634],[0.94,0.754],[0.935,0.636],[0.947,0.418],[0.952,0.492],[0.961,0.56],[0.961,0.702],[0.975,0.678],[0.979,0.716],[0.993,0.728],[0.988,0.57],[0.995,0.499],[0.991,0.56],[0.986,0.388],[0.959,0.34],[0.977,0.352],[0.97,0.411],[0.988,0.293],[0.977,0.27],[0.988,0.246],[0.972,0.234],[0.986,0.191],[0.993,0.17],[0.986,0.163],[0.961,0.168],[0.929,0.175],[0.935,0.116],[0.952,0.04],[0.961,0.135],[0.993,0.116],[0.977,0.111],[0.995,0.305],[0.949,0.317],[0.97,0.459],[0.933,0.418],[0.995,0.435],[0.954,0.636],[0.982,0.671],[0.975,0.534],[0.959,0.258],[0.993,0.222],[0.94,0.158],[0.908,0.543],[0.977,0.151],[0.995,0.376]];
const SC_5_1_A = [[0.05,0.915],[0.33,0.975],[0.385,0.98],[0.41,0.97],[0.345,0.805],[0.74,0.98]];
const SC_5_1_B = [[0.12,0.173],[0.311,0.241],[0.442,0.08],[0.664,0.227],[0.689,0.151],[0.765,0.792],[0.788,0.735],[0.829,0.825],[0.779,0.411],[0.818,0.258],[0.825,0.56],[0.829,0.6],[0.836,0.435],[0.827,0.364],[0.829,0.329],[0.853,0.57],[0.85,0.442],[0.846,0.241],[0.857,0.27],[0.862,0.239],[0.873,0.56],[0.88,0.388],[0.885,0.494],[0.903,0.506],[0.908,0.239],[0.866,0.187],[0.882,0.158],[0.889,0.447],[0.903,0.423],[0.912,0.452],[0.926,0.447],[0.912,0.589],[0.919,0.541],[0.926,0.648],[0.931,0.629],[0.935,0.565],[0.938,0.877],[0.919,0.806],[0.938,0.395],[0.945,0.083],[0.956,0.459],[0.968,0.707],[0.977,0.711],[0.972,0.775]];
const SC_5_2_A = [[0.015,0.98],[0.05,0.98],[0.06,0.97],[0.065,0.975],[0.195,0.915],[0.115,0.80]];
const SC_5_2_B = [[0.455,0.158],[0.834,0.44],[0.91,0.494],[0.913,0.265],[0.917,0.239],[0.952,0.21],[0.963,0.196],[0.968,0.168],[0.979,0.144],[0.943,0.128],[0.92,0.125],[0.883,0.092],[0.894,0.08],[0.917,0.05],[0.963,0.054],[0.945,0.092],[0.975,0.111],[0.984,0.08],[0.993,0.135],[0.986,0.111],[0.959,0.104],[0.938,0.069],[0.986,0.151],[0.968,0.116],[0.947,0.158]];
const SC_5_3_A = [[0.24,0.98],[0.25,0.97],[0.485,0.98],[0.70,0.915],[0.45,0.80],[0.245,0.975]];
const SC_5_3_B = [[0.906,0.714],[0.949,0.56],[0.674,0.648],[0.614,0.478],[0.462,0.475],[0.703,0.404],[0.667,0.385],[0.671,0.366],[0.586,0.345],[0.798,0.421],[0.876,0.421],[0.917,0.381],[0.961,0.385],[0.968,0.34],[0.906,0.27],[0.977,0.284],[0.805,0.248],[0.71,0.189],[0.77,0.199],[0.844,0.196],[0.821,0.168],[0.928,0.191],[0.989,0.22],[0.977,0.184],[0.946,0.151],[0.956,0.13],[0.975,0.121],[0.989,0.097],[0.938,0.097],[0.924,0.085],[0.883,0.054],[0.903,0.073],[0.961,0.073],[0.979,0.069],[0.993,0.057],[0.968,0.033],[0.989,0.026],[0.945,0.045],[0.887,0.128],[0.922,0.128],[0.984,0.151],[0.993,0.128],[0.952,0.104],[0.972,0.092],[0.993,0.08],[0.959,0.026],[0.931,0.14],[0.91,0.066],[0.979,0.045],[0.892,0.097],[0.963,0.168],[0.94,0.073],[0.991,0.104],[0.998,0.045],[0.97,0.151],[0.92,0.054],[0.947,0.116]];
const SC_5_4_A = [[0.44,0.915],[0.46,0.97],[0.485,0.98],[0.825,0.98],[0.93,0.97],[0.81,0.80]];
const SC_5_4_B = [[0.935,0.95],[0.89,0.76],[0.97,0.745],[0.83,0.595],[0.865,0.51],[0.95,0.54],[0.98,0.52],[0.875,0.39],[0.885,0.12]];

// ---------------- LOOKUPS ----------------
const UPPER_ROC = {
 '0_1':[R01_M,R01_L,R01_H],'0_2':[R02_M,R02_L,R02_H],'0_3':[R03_M,R03_L,R03_H],'0_4':[R04_M,R04_L,R04_H],'0_5':[R05_M,R05_L,R05_H],
 '1_2':[R12_M,R12_L,R12_H],'1_3':[R13_M,R13_L,R13_H],'1_4':[R14_M,R14_L,R14_H],'1_5':[R15_M,R15_L,R15_H],
 '2_3':[R23_M,R23_L,R23_H],'2_4':[R24_M,R24_L,R24_H],'2_5':[R25_M,R25_L,R25_H],
 '3_4':[R34_M,R34_L,R34_H],'3_5':[R35_M,R35_L,R35_H],'4_5':[R45_M,R45_L,R45_H]
};
const OVR_ROC = [[O0_M,O0_L,O0_H],[O1_M,O1_L,O1_H],[O2_M,O2_L,O2_H],[O3_M,O3_L,O3_H],[O4_M,O4_L,O4_H],[O5_M,O5_L,O5_H]];
const VIOLINS = [VIOLIN_R0,VIOLIN_R1,VIOLIN_R2,VIOLIN_R3,VIOLIN_R4,VIOLIN_R5];
const VDOTS = [VDOT_R0,VDOT_R1,VDOT_R2,VDOT_R3,VDOT_R4,VDOT_R5];
const SCATTER = {
 '1_0':[SC_1_0_A,SC_1_0_B],'2_0':[SC_2_0_A,SC_2_0_B],'2_1':[SC_2_1_A,SC_2_1_B],
 '3_0':[SC_3_0_A,SC_3_0_B],'3_1':[SC_3_1_A,SC_3_1_B],'3_2':[SC_3_2_A,SC_3_2_B],
 '4_0':[SC_4_0_A,SC_4_0_B],'4_1':[SC_4_1_A,SC_4_1_B],'4_2':[SC_4_2_A,SC_4_2_B],'4_3':[SC_4_3_A,SC_4_3_B],
 '5_0':[SC_5_0_A,SC_5_0_B],'5_1':[SC_5_1_A,SC_5_1_B],'5_2':[SC_5_2_A,SC_5_2_B],'5_3':[SC_5_3_A,SC_5_3_B],'5_4':[SC_5_4_A,SC_5_4_B]
};

// ---------------- LAYOUT ----------------
const PANEL_L = [41,199,357,515,673,831,989,1147];
const PANEL_T = [41,195,349,504,658,812];
const PW = 145, PH = 141, M = 22;
const AX = {left:41, right:36, top:41, bottom:31};
const FONT_H = {family:"'DejaVu Sans', sans-serif", size:14.5};
const FONT_R = {family:"'Liberation Sans', Arial, sans-serif", size:13};
const TXT_FONT = "14.5px 'Liberation Sans', Arial, sans-serif";
const DIAG_FONT = "15px 'Liberation Sans', Arial, sans-serif";

Chart.defaults.font.family = "'Liberation Sans', Arial, sans-serif";
Chart.defaults.color = '#000';

const P = a => a.map(p => ({x:p[0], y:p[1]}));

function scaleCfg(pos, show, min, max, reverse) {
  const vertical = (pos === 'left' || pos === 'right');
  const rotated = !vertical;
  const tl = vertical ? 4 : 6;
  const pad = pos === 'left' ? 1 : (pos === 'right' ? 4 : 3);
  return {
    type:'linear', position:pos, display:show, min:min, max:max, reverse:!!reverse,
    afterBuildTicks: s => { s.ticks = TICK_VALUES.map(v => ({value:v})); },
    afterFit: s => { if (!show) return; if (vertical) s.width = AX[pos]; else s.height = AX[pos]; },
    ticks: { autoSkip:false, minRotation: rotated?90:0, maxRotation: rotated?90:0, color:'#000',
             font: rotated ? FONT_R : FONT_H, padding: pad, labelOffset: (pos === 'top') ? 15.5 : 0,
             callback: (v,i) => TICK_LABELS[i] },
    grid: { display:true, drawOnChartArea:false, drawTicks:true, tickLength:tl, tickColor:'#000', tickWidth:1 },
    border: { display:true, color:'#000', width:1.2 }
  };
}

function rocSets(roc, fillColor) {
  const [main, lo, hi] = roc;
  return [
    { data:P(main), borderColor:'#000', borderWidth:1.7, pointRadius:0, fill:false, order:1, clip:4 },
    { data:P(hi), borderColor:'#000', borderWidth:0.9, pointRadius:0, fill:false, order:2, clip:4 },
    { data:P(lo), borderColor:'#000', borderWidth:0.9, pointRadius:0, fill:false, order:2, clip:4 },
    { data:P(hi.concat(lo.slice().reverse())), borderColor:'rgba(0,0,0,0)', borderWidth:0, backgroundColor:fillColor, pointRadius:0, fill:'shape', order:3, clip:4 },
    { data:P(DIAG), borderColor:'#cfcfcf', borderWidth:1, pointRadius:0, fill:false, order:4 }
  ];
}

function violinSets(profiles, dots) {
  const sets = profiles.map((prof, k) => {
    const cx = k + 1;
    const right = prof.map(p => [cx + p[1], p[0]]);
    const left = prof.slice().reverse().map(p => [cx - p[1], p[0]]);
    return { data:P(right.concat(left)), fill:'shape', backgroundColor:COLORS[k], borderColor:'rgba(0,0,0,0)', borderWidth:0, pointRadius:0, order:2 };
  });
  dots.forEach((ys, k) => {
    sets.push({ data: ys.map(y => ({x:k+1, y:y})), showLine:false, pointRadius:1.25, pointBorderWidth:0,
                pointBackgroundColor:'rgba(35,35,35,0.6)', pointBorderColor:'rgba(0,0,0,0)', borderWidth:0, order:1, clip:2 });
  });
  return sets;
}

function scatterSets(a, b, ca, cb) {
  const mk = (arr, col, ord) => ({ data:P(arr), showLine:false, pointRadius:2.4, pointBackgroundColor:col, pointBorderColor:col, pointBorderWidth:0, borderWidth:0, order:ord, clip:4 });
  return [ mk(b, cb, 1), mk(a, ca, 2) ];
}

function decorPlugin(kind, info) {
  return {
    id:'decor_'+kind,
    beforeDraw(chart) {
      const a = chart.chartArea, ctx = chart.ctx;
      ctx.save();
      if (kind === 'diag') {
        ctx.fillStyle = info.color; ctx.fillRect(a.left, a.top, a.width, a.height);
        ctx.lineWidth = 1.5; ctx.strokeStyle = '#262626'; ctx.strokeRect(a.left, a.top, a.width, a.height);
      } else if (kind === 'scatter') {
        ctx.lineWidth = 2; ctx.strokeStyle = '#d6d6d6'; ctx.strokeRect(a.left+1, a.top+1, a.width-2, a.height-2);
      }
      ctx.restore();
    },
    afterDraw(chart) {
      const a = chart.chartArea, ctx = chart.ctx;
      ctx.save();
      ctx.textBaseline = 'middle';
      if (kind === 'diag') {
        ctx.font = DIAG_FONT; ctx.fillStyle = '#111'; ctx.textAlign = 'center';
        ctx.fillText(info.l1, a.left + 0.483*a.width, a.top + 0.442*a.height);
        ctx.fillText(info.l2, a.left + 0.512*a.width, a.top + 0.574*a.height);
      } else if (kind === 'roc') {
        ctx.font = TXT_FONT; ctx.fillStyle = info.color; ctx.textAlign = 'left';
        const x1 = a.left + 0.515*a.width;
        if (info.ci) {
          ctx.fillText(info.auc, x1, a.top + 0.64*a.height);
          ctx.fillText(info.ci, x1 - 17, a.top + 0.77*a.height);
        } else {
          ctx.fillText(info.auc, x1, a.top + 0.705*a.height);
        }
      }
      ctx.restore();
    }
  };
}

const root = document.getElementById('root');

function makePanel(i, c) {
  const hasLeft = (c === 0 && i > 0);
  const hasRight = (c === 7);
  const hasTop = (i === 0 && c >= 1 && c !== 6);
  const hasBottom = (i === 5 && c <= 5);
  const pl = hasLeft ? AX.left : M, pr = hasRight ? AX.right : M;
  const pt = hasTop ? AX.top : M, pb = hasBottom ? AX.bottom : M;
  const L = PANEL_L[c], T = PANEL_T[i];
  const cv = document.createElement('canvas');
  const w = PW + pl + pr, h = PH + pt + pb;
  cv.width = w; cv.height = h;
  cv.style.left = (L - pl) + 'px'; cv.style.top = (T - pt) + 'px';
  cv.style.width = w + 'px'; cv.style.height = h + 'px';
  root.appendChild(cv);

  let datasets = [], xs, ys, plugin = null;
  const xPos = hasTop ? 'top' : 'bottom';
  const xShow = hasTop || hasBottom;
  const yPos = hasRight ? 'right' : 'left';
  const yShow = hasLeft || hasRight;

  if (c === 6) {
    datasets = violinSets(VIOLINS[i], VDOTS[i]);
    xs = scaleCfg('bottom', false, 0, 7, false);
    ys = scaleCfg('left', false, 0, 1, false);
  } else if (c === 7) {
    datasets = rocSets(OVR_ROC[i], COLORS[i]);
    xs = scaleCfg(xPos, xShow, 0, 1, true);
    ys = scaleCfg(yPos, yShow, 0, 1, false);
    plugin = decorPlugin('roc', {auc:OVR_AUC[i], ci:OVR_CI[i], color:COLORS[i]});
  } else if (c === i) {
    xs = scaleCfg(xPos, xShow, 0, 1, false);
    ys = scaleCfg(yPos, yShow, 0, 1, false);
    plugin = decorPlugin('diag', {color:COLORS[i], l1:CLASSES[i], l2:'n = ' + COUNTS[i]});
  } else if (c > i) {
    const key = i + '_' + c;
    const idx = UPPER_PAIRS.findIndex(p => p[0] === i && p[1] === c);
    datasets = rocSets(UPPER_ROC[key], '#dadada');
    xs = scaleCfg(xPos, xShow, 0, 1, true);
    ys = scaleCfg(yPos, yShow, 0, 1, false);
    plugin = decorPlugin('roc', {auc:UPPER_AUC[idx], ci:UPPER_CI[idx], color:'#000'});
  } else {
    const s = SCATTER[i + '_' + c];
    datasets = scatterSets(s[0], s[1], COLORS[i], COLORS[c]);
    xs = scaleCfg(xPos, xShow, 0, 1, false);
    ys = scaleCfg(yPos, yShow, 0, 1, false);
    plugin = decorPlugin('scatter', {});
  }

  new Chart(cv, {
    type:'line',
    data:{ datasets: datasets },
    options:{
      responsive:false, animation:false, devicePixelRatio:1, events:[],
      layout:{ padding:{ left: hasLeft?0:M, right: hasRight?0:M, top: hasTop?0:M, bottom: hasBottom?0:M } },
      plugins:{ legend:{display:false}, tooltip:{enabled:false} },
      scales:{ x: xs, y: ys },
      elements:{ line:{ tension:0 } }
    },
    plugins: plugin ? [plugin] : []
  });
}

for (let i = 0; i < 6; i++) for (let c = 0; c < 8; c++) makePanel(i, c);
</script>
</body></html>
